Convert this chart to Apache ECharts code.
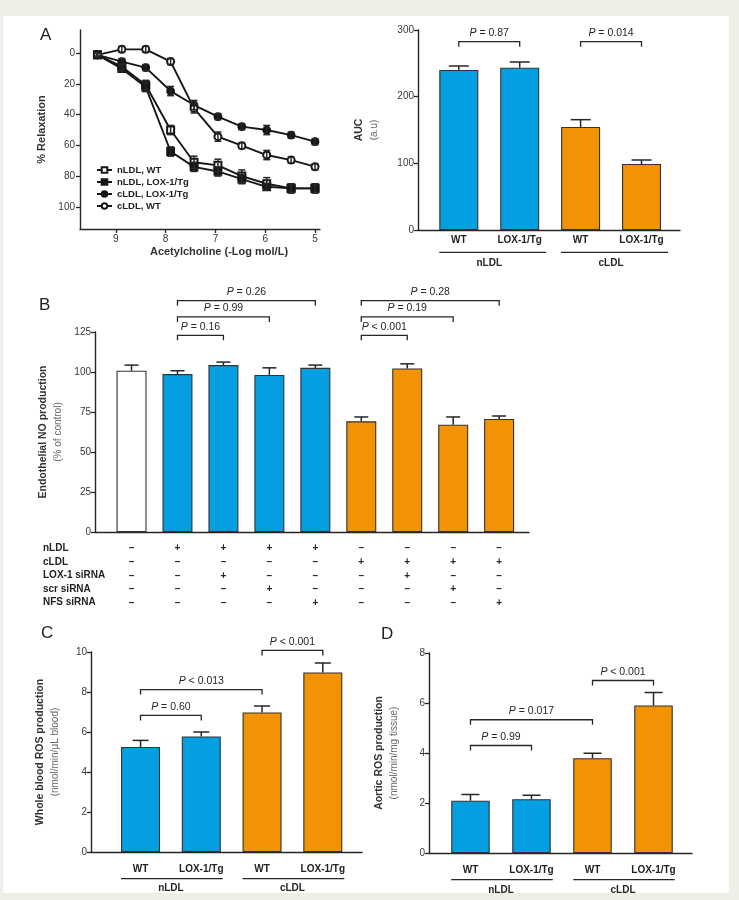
<!DOCTYPE html>
<html>
<head>
<meta charset="utf-8">
<script src="https://cdn.jsdelivr.net/npm/echarts@6/dist/echarts.min.js"></script>
<style>
html, body { margin: 0; padding: 0; background: #efefe7; }
#sheet { position: absolute; left: 3px; top: 16px; width: 726px; height: 877px; background: #fff; }
#main { position: absolute; left: 0; top: 0; width: 739px; height: 900px; }
</style>
</head>
<body>
<div id="sheet"></div>
<div id="main"></div>
<script>
// ---- panel A : relaxation curves ----
var doseLog = [9.37, 8.88, 8.4, 7.9, 7.43, 6.95, 6.47, 5.97, 5.48, 5.0];
var relaxNames = ['nLDL, WT', 'nLDL, LOX-1/Tg', 'cLDL, LOX-1/Tg', 'cLDL, WT'];
var relaxSymbols = ['emptyRect', 'rect', 'circle', 'emptyCircle'];
var relaxNWT = [1, 8.7, 20.6, 50, 71, 73, 80, 85, 88, 88];
var relaxNWTErr = [1, 2, 3, 3, 4, 4, 4, 4, 3, 3];
var relaxNTg = [1, 10, 22, 64, 74, 77, 82, 87, 88, 88];
var relaxNTgErr = [1, 2, 3, 3, 3, 3, 3, 2, 3, 3];
var relaxCTg = [1, 5.4, 9.3, 24.6, 33.7, 41.3, 47.8, 50, 53.3, 57.6];
var relaxCTgErr = [1, 2, 2, 3, 3, 2, 2, 3, 2, 2];
var relaxCWT = [1, -2.6, -2.6, 5.4, 35.9, 54.3, 60.2, 66.3, 69.6, 73.9];
var relaxCWTErr = [1, 2, 2, 2, 3, 3, 2, 3, 2, 2];
var relaxTicks = [0, 20, 40, 60, 80, 100];
var doseTicks = [9, 8, 7, 6, 5];

// ---- panel A : AUC ----
var aucCats = ['WT', 'LOX-1/Tg', 'WT', 'LOX-1/Tg'];
var aucMean = [240, 243.5, 154.5, 99];
var aucErr = [6, 8.5, 11, 6];
var aucBrackets = [[0, 1, 282.5, '= 0.87'], [2, 3, 282.5, '= 0.014']];

// ---- panel B : NO production ----
var noMean = [100.8, 98.7, 104.3, 98.2, 102.6, 69.2, 102.2, 67.1, 70.7];
var noErr = [3.5, 2.1, 1.9, 4.4, 1.7, 2.7, 2.9, 4.8, 1.8];
var noBrackets = [[1, 2, 122.9, '= 0.16'], [1, 3, 134.4, '= 0.99'], [1, 4, 144.6, '= 0.26'],
                  [5, 6, 122.9, '< 0.001'], [5, 7, 134.4, '= 0.19'], [5, 8, 144.6, '= 0.28']];
var tableLabels = ['nLDL', 'cLDL', 'LOX-1 siRNA', 'scr siRNA', 'NFS siRNA'];
var tableRows = ['-++++----', '-----++++', '--+---+--', '---+---+-', '----+---+'];

// ---- panel C : whole blood ROS ----
var bloodMean = [5.25, 5.78, 6.98, 8.98];
var bloodErr = [0.33, 0.22, 0.32, 0.47];
var bloodBrackets = [[0, 1, 6.83, '= 0.60'], [0, 2, 8.12, '< 0.013'], [2, 3, 10.08, '< 0.001']];

// ---- panel D : aortic ROS ----
var aortaMean = [2.09, 2.15, 3.79, 5.9];
var aortaErr = [0.25, 0.16, 0.2, 0.52];
var aortaBrackets = [[0, 1, 4.3, '= 0.99'], [0, 2, 5.33, '= 0.017'], [2, 3, 6.9, '< 0.001']];

var groupNames = ['nLDL', 'cLDL'];

var FONT = 'Liberation Sans, Arial, Helvetica, sans-serif';
var BLUE = '#049fe0';
var ORANGE = '#f29205';
var INK = '#262626';

function errData(mean, err) {
  return mean.map(function (v, i) { return [i, v, err[i]]; });
}

function errorBarItem(capHalf, both) {
  return function (params, api) {
    var x = api.value(0), v = api.value(1), e = api.value(2);
    var lo = api.coord([x, both ? v - e : v]);
    var hi = api.coord([x, v + e]);
    var st = { stroke: INK, lineWidth: 1.5 };
    var ch = [
      { type: 'line', shape: { x1: hi[0], y1: lo[1], x2: hi[0], y2: hi[1] }, style: st },
      { type: 'line', shape: { x1: hi[0] - capHalf, y1: hi[1], x2: hi[0] + capHalf, y2: hi[1] }, style: st }
    ];
    if (both) {
      ch.push({ type: 'line', shape: { x1: lo[0] - capHalf, y1: lo[1], x2: lo[0] + capHalf, y2: lo[1] }, style: st });
    }
    return { type: 'group', children: ch };
  };
}

function bracketItem(list) {
  return function (params, api) {
    var b = list[params.dataIndex];
    var p1 = api.coord([b[0], b[2]]);
    var p2 = api.coord([b[1], b[2]]);
    return {
      type: 'group',
      children: [
        { type: 'polyline', shape: { points: [[p1[0], p1[1] + 5], [p1[0], p1[1]], [p2[0], p2[1]], [p2[0], p2[1] + 5]] },
          style: { stroke: INK, lineWidth: 1.3, fill: null } },
        { type: 'text', x: (p1[0] + p2[0]) / 2, y: p1[1] - 3,
          style: { text: '{i|P} ' + b[3], fill: INK, font: '10.5px ' + FONT, align: 'center', verticalAlign: 'bottom',
                   rich: { i: { fontStyle: 'italic', fontSize: 10.5, fontFamily: FONT, fill: INK } } } }
      ]
    };
  };
}

function groupItem(halfW, extL, extR, lineOff, labOff) {
  return function (params, api) {
    var g = params.dataIndex;
    var a = api.coord([g * 2, 0]);
    var b = api.coord([g * 2 + 1, 0]);
    return {
      type: 'group',
      children: [
        { type: 'line', shape: { x1: a[0] - halfW - extL, y1: a[1] + lineOff, x2: b[0] + halfW + extR, y2: a[1] + lineOff },
          style: { stroke: INK, lineWidth: 1.3 } },
        { type: 'text', x: (a[0] + b[0]) / 2, y: a[1] + labOff,
          style: { text: groupNames[g], fill: INK, font: 'bold 10px ' + FONT, align: 'center', verticalAlign: 'middle' } }
      ]
    };
  };
}

function tableItem(params, api) {
  var c = api.value(0), r = api.value(1);
  var p = api.coord([c, 0]);
  return {
    type: 'text', x: p[0], y: p[1] + 16.6 + r * 13.6,
    style: { text: tableRows[r].charAt(c) === '+' ? '+' : '\u2013', fill: INK, font: 'bold 10px ' + FONT,
             align: 'center', verticalAlign: 'middle' }
  };
}

function yName(bold, light, gap) {
  return {
    name: '{b|' + bold + '}\n{n|' + light + '}',
    nameLocation: 'middle',
    nameRotate: 90,
    nameGap: gap,
    nameTextStyle: {
      rich: {
        b: { fontWeight: 'bold', fontSize: 10.5, fontFamily: FONT, color: '#333', lineHeight: 15 },
        n: { fontSize: 10, fontFamily: FONT, color: '#666', lineHeight: 15 }
      }
    }
  };
}

var lineStyleAxis = { color: INK, width: 1.4 };
var tickStyle = { show: true, inside: false, length: 4, lineStyle: { color: INK, width: 1.3 } };
var tickLabel = { fontSize: 10, fontFamily: FONT, color: '#383838', margin: 4 };

function valueY(gi, min, max, interval, extra) {
  var o = {
    type: 'value', gridIndex: gi, min: min, max: max, interval: interval,
    axisLine: { show: true, onZero: false, lineStyle: lineStyleAxis },
    axisTick: tickStyle, axisLabel: tickLabel, splitLine: { show: false }
  };
  for (var k in extra) o[k] = extra[k];
  return o;
}

function catX(gi, min, max, labels, margin) {
  return {
    type: 'value', gridIndex: gi, min: min, max: max,
    axisLine: { show: true, onZero: false, lineStyle: lineStyleAxis },
    axisTick: { show: false }, splitLine: { show: false },
    axisLabel: labels ? {
      customValues: labels.map(function (l, i) { return i; }),
      formatter: function (v) { return labels[Math.round(v)]; },
      fontWeight: 'bold', fontSize: 10, fontFamily: FONT, color: '#222', margin: margin
    } : { show: false }
  };
}

function barSeries(gi, mean, colors, width) {
  return {
    type: 'bar', xAxisIndex: gi, yAxisIndex: gi, barWidth: width,
    data: mean.map(function (v, i) {
      return { value: [i, v], itemStyle: { color: colors[i] } };
    }),
    itemStyle: { borderColor: '#333', borderWidth: 1.1 },
    emphasis: { disabled: true }, silent: true, z: 2
  };
}

function customSeries(gi, data, render) {
  return {
    type: 'custom', xAxisIndex: gi, yAxisIndex: gi, data: data, renderItem: render,
    encode: { x: 0, y: 1 }, clip: false, silent: true, z: 4
  };
}

var relaxSets = [[relaxNWT, relaxNWTErr], [relaxNTg, relaxNTgErr], [relaxCTg, relaxCTgErr], [relaxCWT, relaxCWTErr]];
var series = [];
relaxSets.forEach(function (s, k) {
  series.push({
    name: relaxNames[k], type: 'line', xAxisIndex: 0, yAxisIndex: 0,
    data: s[0].map(function (v, i) { return [doseLog[i], v]; }),
    symbol: relaxSymbols[k], symbolSize: 7,
    lineStyle: { color: '#161616', width: 1.9 },
    itemStyle: { color: '#161616', borderColor: '#161616', borderWidth: 1.8 },
    emphasis: { disabled: true }, silent: true, z: 3
  });
  series.push(customSeries(0, s[0].map(function (v, i) { return [doseLog[i], v, s[1][i]]; }), errorBarItem(3.5, true)));
});

var four = [BLUE, BLUE, ORANGE, ORANGE];
var nine = ['#ffffff', BLUE, BLUE, BLUE, BLUE, ORANGE, ORANGE, ORANGE, ORANGE];

// AUC
series.push(barSeries(1, aucMean, four, 39));
series.push(customSeries(1, errData(aucMean, aucErr), errorBarItem(10, false)));
series.push(customSeries(1, aucBrackets.map(function (b) { return [b[0], b[2]]; }), bracketItem(aucBrackets)));
series.push(customSeries(1, [[0, 0], [2, 0]], groupItem(19.5, 0, 7, 22.3, 33.3)));
// B
series.push(barSeries(2, noMean, nine, 30));
series.push(customSeries(2, errData(noMean, noErr), errorBarItem(7, false)));
series.push(customSeries(2, noBrackets.map(function (b) { return [b[0], b[2]]; }), bracketItem(noBrackets)));
var tableCells = [];
tableRows.forEach(function (row, r) {
  for (var c = 0; c < row.length; c++) tableCells.push([c, r]);
});
series.push(customSeries(2, tableCells, tableItem));
// C
series.push(barSeries(3, bloodMean, four, 39));
series.push(customSeries(3, errData(bloodMean, bloodErr), errorBarItem(8, false)));
series.push(customSeries(3, bloodBrackets.map(function (b) { return [b[0], b[2]]; }), bracketItem(bloodBrackets)));
series.push(customSeries(3, [[0, 0], [2, 0]], groupItem(19.5, 0, 2, 26.6, 36.5)));
// D
series.push(barSeries(4, aortaMean, four, 38.5));
series.push(customSeries(4, errData(aortaMean, aortaErr), errorBarItem(9, false)));
series.push(customSeries(4, aortaBrackets.map(function (b) { return [b[0], b[2]]; }), bracketItem(aortaBrackets)));
series.push(customSeries(4, [[0, 0], [2, 0]], groupItem(19.25, 0, 2, 26.6, 37)));

var graphics = [
  { type: 'text', left: 40, top: 27, style: { text: 'A', font: '17px ' + FONT, fill: '#222' } },
  { type: 'text', left: 39, top: 297, style: { text: 'B', font: '17px ' + FONT, fill: '#222' } },
  { type: 'text', left: 41, top: 625, style: { text: 'C', font: '17px ' + FONT, fill: '#222' } },
  { type: 'text', left: 381, top: 626, style: { text: 'D', font: '17px ' + FONT, fill: '#222' } }
];
tableLabels.forEach(function (t, r) {
  graphics.push({ type: 'text', x: 43, y: 548.3 + r * 13.6,
    style: { text: t, font: 'bold 10px ' + FONT, fill: '#222', verticalAlign: 'middle' } });
});

var option = {
  animation: false,
  backgroundColor: 'transparent',
  textStyle: { fontFamily: FONT },
  legend: {
    data: relaxNames, orient: 'vertical', left: 91, top: 160,
    itemWidth: 15, itemHeight: 7, itemGap: 2,
    textStyle: { fontWeight: 'bold', fontSize: 9.5, fontFamily: FONT, color: '#222' },
    selectedMode: false
  },
  grid: [
    { left: 80, top: 30, width: 240, height: 199 },
    { left: 418, top: 30, width: 262, height: 200 },
    { left: 95, top: 332, width: 434, height: 200 },
    { left: 91, top: 652, width: 271, height: 200 },
    { left: 429, top: 653, width: 263, height: 200 }
  ],
  xAxis: [
    {
      type: 'value', gridIndex: 0, min: 4.9, max: 9.72, inverse: true,
      axisLine: { show: true, onZero: false, lineStyle: lineStyleAxis },
      axisTick: Object.assign({}, tickStyle, { customValues: doseTicks }),
      axisLabel: Object.assign({}, tickLabel, { customValues: doseTicks, margin: 5 }),
      splitLine: { show: false },
      name: 'Acetylcholine (-Log mol/L)', nameLocation: 'middle', nameGap: 17,
      nameTextStyle: { fontWeight: 'bold', fontSize: 11, fontFamily: FONT, color: '#333', padding: [0, 0, 0, 38] }
    },
    catX(1, -0.67, 3.632, aucCats, 5),
    catX(2, -0.795, 8.65, null, 5),
    catX(3, -0.815, 3.645, aucCats, 12),
    catX(4, -0.68, 3.631, aucCats, 12)
  ],
  yAxis: [
    {
      type: 'value', gridIndex: 0, min: -15.2, max: 114.5, inverse: true,
      axisLine: { show: true, onZero: false, lineStyle: lineStyleAxis },
      axisTick: Object.assign({}, tickStyle, { customValues: relaxTicks }),
      axisLabel: Object.assign({}, tickLabel, { customValues: relaxTicks, margin: 5 }),
      splitLine: { show: false },
      name: '% Relaxation', nameLocation: 'middle', nameRotate: 90, nameGap: 33,
      nameTextStyle: { fontWeight: 'bold', fontSize: 11, fontFamily: FONT, color: '#333' }
    },
    valueY(1, 0, 300, 100, yName('AUC', '(a.u)', 36)),
    valueY(2, 0, 125, 25, yName('Endothelial NO production', '(% of control)', 22)),
    valueY(3, 0, 10, 2, yName('Whole blood ROS production', '(nmol/min/\u03bcL blood)', 28)),
    valueY(4, 0, 8, 2, yName('Aortic ROS production', '(nmol/min/mg tissue)', 27))
  ],
  graphic: graphics,
  series: series
};

var chart = echarts.init(document.getElementById('main'), null, { renderer: 'canvas' });
chart.setOption(option);
</script>
</body>
</html>
